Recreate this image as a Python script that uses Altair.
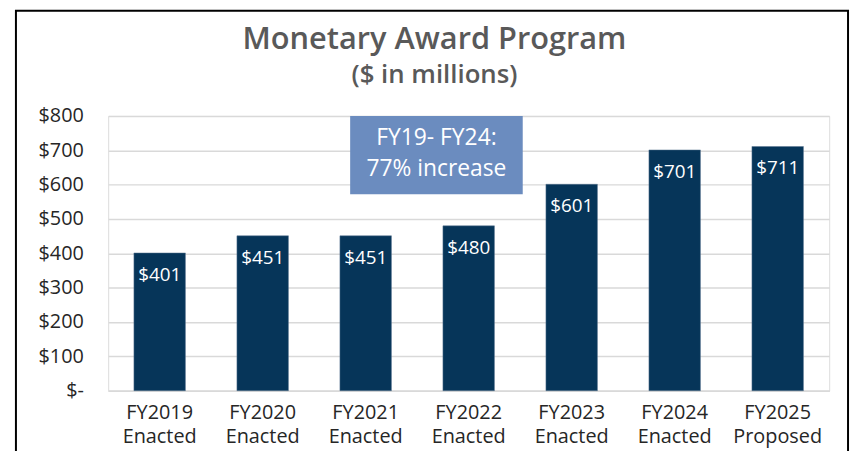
import altair as alt
import pandas as pd

categories = ["FY2019 Enacted", "FY2020 Enacted", "FY2021 Enacted", "FY2022 Enacted",
              "FY2023 Enacted", "FY2024 Enacted", "FY2025 Proposed"]
values = [401, 451, 451, 480, 601, 701, 711]
value_labels = ["$401", "$451", "$451", "$480", "$601", "$701", "$711"]
y_ticks = [0, 100, 200, 300, 400, 500, 600, 700, 800]
note_lines = ["FY19- FY24:", "77% increase"]
note_line_values = [736, 644]
note_box_values = [572, 800]
title_lines = ["Monetary Award Program", "($ in millions)"]

df = pd.DataFrame({"cat": categories, "val": values, "lab": value_labels})

FONT = "Open Sans"
W, H = 727, 277
PAD_L, PAD_T, PAD_R, PAD_B = 101, 107, 23, 59

y_axis = alt.Axis(values=y_ticks,
                  labelExpr="datum.value == 0 ? '$-\u00a0\u00a0' : '$' + datum.value",
                  labelFontSize=20, labelColor="#262626", labelFont=FONT,
                  labelPadding=25, ticks=False, domain=False, labelOverlap=False,
                  grid=True, gridColor="#d9d9d9", gridWidth=1.5)
y_scale = alt.Scale(domain=[0, 800], nice=False)


def yenc(field):
    return alt.Y(field, title=None, scale=y_scale, axis=y_axis)


x = alt.X("cat:N", sort=categories, title=None,
          scale=alt.Scale(paddingInner=0.5, paddingOuter=0.25),
          axis=alt.Axis(labelExpr="split(datum.label, ' ')", labelAngle=0,
                        labelFontSize=20, labelColor="#262626", labelFont=FONT,
                        labelLineHeight=24, labelPadding=12, ticks=False,
                        domain=True, domainColor="#d9d9d9", domainWidth=1.5))

base = alt.Chart(df)
bars = base.mark_bar(color="#063559", stroke="#5a7590", strokeWidth=0.5).encode(
    x=x, y=yenc("val:Q"))
labels = base.mark_text(color="white", fontSize=19, font=FONT, baseline="middle", dy=22).encode(
    x=x, y=yenc("val:Q"), text="lab:N")

box = alt.Chart(pd.DataFrame({"lo": [note_box_values[0]], "hi": [note_box_values[1]]})).mark_rect(
    color="#6b8cbf").encode(
    x=alt.value(244), x2=alt.value(418), y=yenc("lo:Q"), y2="hi:Q")
note = alt.Chart(pd.DataFrame({"t": note_lines, "v": note_line_values})).mark_text(
    color="white", fontSize=23, font=FONT, baseline="middle").encode(
    x=alt.value(331), y=yenc("v:Q"), text="t:N")

title1 = alt.Chart(pd.DataFrame({"t": [title_lines[0]]})).mark_text(
    font=FONT, fontSize=31, fontWeight=600, color="#595959", baseline="middle").encode(
    x=alt.value(329), y=alt.value(-76), text="t:N")
title2 = alt.Chart(pd.DataFrame({"t": [title_lines[1]]})).mark_text(
    font=FONT, fontSize=26, fontWeight=600, color="#595959", baseline="middle").encode(
    x=alt.value(329), y=alt.value(-41), text="t:N")

border = alt.Chart(pd.DataFrame({"a": [1]})).mark_rect(
    fill=None, stroke="black", strokeWidth=2).encode(
    x=alt.value(-93), x2=alt.value(746), y=alt.value(-106), y2=alt.value(H + PAD_B + 30))

chart = alt.layer(bars, labels, box, note, title1, title2, border).properties(
    width=W, height=H,
    autosize=alt.AutoSizeParams(type="none"),
    padding={"left": PAD_L, "top": PAD_T, "right": PAD_R, "bottom": PAD_B},
).configure_view(stroke=None).configure(background="white")

chart.save("out.html", embed_options={"renderer": "svg", "actions": False})
